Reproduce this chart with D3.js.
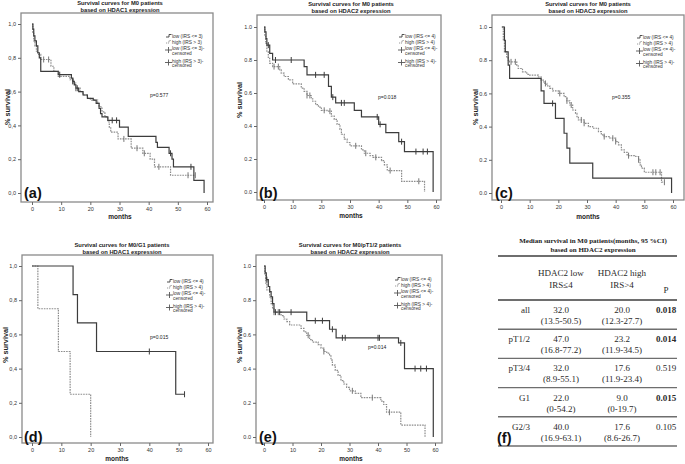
<!DOCTYPE html>
<html><head><meta charset="utf-8">
<script src="https://cdn.jsdelivr.net/npm/d3@7"></script>
<style>body{margin:0;background:#fff}svg{display:block}</style>
</head><body><svg id="c" width="685" height="464"></svg>
<script>
// ---------------- data (Kaplan-Meier steps: [month, survival]) ----------------
const aLow = [[0,1],[0.3,0.97],[0.6,0.93],[1,0.9],[1.5,0.87],[2,0.83],[2.5,0.8],[3,0.72],[9,0.70],[13.5,0.68],[14,0.66],[14.5,0.64],[15,0.62],[16,0.60],[17.5,0.58],[19,0.56],[21,0.55],[22,0.53],[23,0.50],[23.5,0.47],[24,0.45],[26,0.43],[30,0.39],[33,0.335],[42.5,0.30],[43,0.27],[47,0.235],[48,0.20],[48.5,0.155],[55.5,0.075],[59,0]];
const aLowC = [9.5,14,15.5,27.5,29,47.5,54.5];
const aHigh = [[0,1],[0.3,0.95],[0.6,0.9],[1,0.87],[1.5,0.84],[2,0.82],[3,0.79],[6.5,0.75],[7.5,0.72],[9,0.69],[13,0.67],[14,0.65],[15,0.62],[16.5,0.6],[17.5,0.58],[19,0.56],[20,0.55],[22.5,0.53],[23,0.51],[24,0.48],[25,0.45],[26,0.42],[26.5,0.39],[27,0.36],[29.5,0.32],[34,0.265],[38,0.235],[40.5,0.2],[42,0.155],[47.5,0.105],[56,0.105]];
const aHighC = [4,5.7,15,31.5,36,38.5,43.5,53.5,56];

const bLow = [[0,1],[0.3,0.97],[0.7,0.93],[1,0.89],[2,0.84],[3,0.80],[14,0.76],[15,0.71],[22.5,0.64],[23.5,0.575],[25,0.54],[31.5,0.495],[34,0.455],[40,0.41],[42.5,0.36],[47,0.305],[49,0.245],[59,0]];
const bLowC = [1.5,4,9.5,18,21,24,27,28,39.5,40.5,48,53,55.5,57];
const bHigh = [[0,1],[0.3,0.95],[0.6,0.9],[1,0.85],[1.5,0.81],[2,0.78],[3,0.76],[5.5,0.74],[6,0.72],[7,0.70],[8.5,0.68],[10,0.655],[13,0.63],[14,0.61],[15,0.585],[16.5,0.565],[17,0.55],[18,0.53],[19,0.515],[20,0.495],[22,0.49],[23.5,0.46],[24.5,0.44],[25.5,0.41],[26.5,0.38],[27,0.35],[28,0.32],[29,0.30],[30,0.28],[34,0.255],[35,0.235],[37,0.22],[38,0.21],[41,0.19],[42,0.165],[43,0.13],[48,0.065],[56,0]];
const bHighC = [3.5,5,15,16,21,23,32,35.5,39,44,54];

const cLow = [[0.3,1],[1.2,0.92],[1.5,0.85],[2.5,0.77],[3,0.69],[14,0.615],[15,0.54],[19,0.45],[22,0.36],[23,0.27],[24,0.18],[32,0.09],[59.5,0]];
const cLowC = [18];
const cHigh = [[0.3,1],[0.8,0.92],[1.2,0.85],[2,0.82],[2.5,0.8],[3,0.79],[5.5,0.77],[6,0.75],[7.5,0.73],[9,0.715],[10,0.71],[13,0.7],[14,0.68],[15,0.66],[16,0.645],[17,0.63],[18,0.615],[20,0.60],[22,0.58],[23,0.555],[24,0.53],[25,0.50],[26,0.48],[26.5,0.46],[27,0.44],[29,0.42],[30.5,0.40],[32,0.39],[34,0.37],[35,0.35],[36,0.34],[38,0.33],[40,0.31],[41,0.29],[42,0.26],[43,0.245],[44,0.225],[47,0.22],[48,0.20],[48.5,0.17],[49,0.15],[50,0.125],[56,0.065],[57,0.065]];
const cHighC = [3.5,5,15.5,20.5,23,24.5,28,29,36,39,40,44.5,48,53,54,55.5,57];

const dLow = [[0,1],[14,0.833],[15.5,0.667],[22,0.5],[49,0.25],[52,0.25]];
const dLowC = [40,52];
const dHigh = [[0,1],[2,0.75],[9,0.5],[13,0.25],[20,0]];
const dHighC = [];

const eLow = [[0,1],[0.4,0.96],[0.8,0.92],[1.5,0.88],[2,0.85],[2.5,0.82],[3,0.78],[3.5,0.73],[15,0.68],[23,0.63],[25.3,0.58],[47.2,0.55],[49.3,0.40],[59.4,0]];
const eLowC = [1,4,5.5,9.5,18,20.5,24,27.5,28.5,40,40.5,48,53,55,57];
const eHigh = [[0,1],[0.3,0.95],[0.6,0.9],[1,0.86],[2,0.82],[2.5,0.78],[3,0.75],[3.5,0.73],[6,0.71],[7,0.69],[8,0.675],[9,0.655],[13,0.635],[14,0.615],[15,0.595],[16,0.57],[17,0.555],[19,0.54],[20,0.52],[21,0.50],[22,0.49],[23,0.475],[23.5,0.45],[24,0.42],[25,0.39],[26,0.36],[27,0.33],[28,0.31],[29,0.29],[30,0.27],[32,0.255],[34,0.23],[41,0.21],[42,0.19],[43,0.145],[48,0.07],[56.5,0]];
const eHighC = [3.5,5,15.5,21,31,38,44];

const xTicks = [0,10,20,30,40,50,60];
const yTicks = [0,0.2,0.4,0.6,0.8,1.0];

// table
const tableRows = ['all','pT1/2','pT3/4','G1','G2/3'];
const lowMedian = ['32.0','47.0','32.0','22.0','40.0'];
const lowCI = ['(13.5-50.5)','(16.8-77.2)','(8.9-55.1)','(0-54.2)','(16.9-63.1)'];
const highMedian = ['20.0','23.2','17.6','9.0','17.6'];
const highCI = ['(12.3-27.7)','(11.9-34.5)','(11.9-23.4)','(0-19.7)','(8.6-26.7)'];
const pValues = ['0.018','0.014','0.519','0.015','0.105'];
const pSignificant = [true,true,false,true,false];

// ---------------- panels ----------------
const panels = [
 {tag:'(a)', low:aLow, high:aHigh, lowC:aLowC, highC:aHighC, cut:3, comma:true,
  title:['Survival curves for M0 patients','based on HDAC1 expression'], p:'p=0.577',
  L:{box:[21,13,213,202], xr:[32,207], yr:[193,24], title:[120,5], leg:[166,36], p:[150,97], tag:[24,198], ylab:[7,107], xlab:[120,219]}},
 {tag:'(b)', low:bLow, high:bHigh, lowC:bLowC, highC:bHighC, cut:4, comma:false,
  title:['Survival curves for M0 patients','based on HDAC2 expression'], p:'p=0.018',
  L:{box:[257,15,441,200], xr:[264,436], yr:[192,27], title:[351,6], leg:[399,36], p:[378,99], tag:[259,198], ylab:[239,100], xlab:[351,218]}},
 {tag:'(c)', low:cLow, high:cHigh, lowC:cLowC, highC:cHighC, cut:4, comma:false,
  title:['Survival curves for M0 patients','based on HDAC3 expression'], p:'p=0.355',
  L:{box:[492,15,684,200], xr:[501,673], yr:[193,27], title:[588,6], leg:[637,37], p:[612,99], tag:[495,198], ylab:[475,107], xlab:[588,219]}},
 {tag:'(d)', low:dLow, high:dHigh, lowC:dLowC, highC:dHighC, cut:4, comma:true,
  title:['Survival curves for M0/G1 patients','based on HDAC1 expression'], p:'p=0.015',
  L:{box:[22,255,213,443], xr:[32,208], yr:[437,266], title:[122,247], leg:[167,281], p:[150,339], tag:[24,442], ylab:[5,345], xlab:[117,461]}},
 {tag:'(e)', low:eLow, high:eHigh, lowC:eLowC, highC:eHighC, cut:4, comma:false,
  title:['Survival curves for M0/pT1/2 patients','based on HDAC2 expression'], p:'p=0.014',
  L:{box:[256,255,442,443], xr:[264,435], yr:[437,266], title:[350,247], leg:[395,279], p:[368,349], tag:[259,442], ylab:[239,345], xlab:[351,461]}}
];

const svg = d3.select('#c');
svg.append('rect').attr('width',685).attr('height',464).attr('fill','#fff');
const SANS = 'Liberation Sans, Arial, sans-serif';
const SERIF = 'Liberation Serif, Times New Roman, serif';
const LOWCOL = '#3c3c3c', HIGHCOL = '#8c8c8c', FRAME = '#8a8a8a';

function survAt(steps, t){ let s = steps[0][1]; for(const d of steps){ if(d[0] <= t) s = d[1]; } return s; }

panels.forEach(P => {
  const L = P.L;
  const g = svg.append('g');
  const x = d3.scaleLinear().domain([0,60]).range(L.xr);
  const y = d3.scaleLinear().domain([0,1]).range(L.yr);
  const fmt = v => { const s = d3.format('.1f')(v); return P.comma ? s.replace('.',',') : s; };
  // frame
  g.append('rect').attr('x',L.box[0]).attr('y',L.box[1]).attr('width',L.box[2]-L.box[0]).attr('height',L.box[3]-L.box[1])
    .attr('fill','none').attr('stroke',FRAME).attr('stroke-width',1.3);
  // axes
  const ya = g.append('g').attr('transform',`translate(${L.box[0]},0)`)
    .call(d3.axisLeft(y).tickValues(yTicks).tickFormat(fmt).tickSize(3).tickPadding(2));
  const xa = g.append('g').attr('transform',`translate(0,${L.box[3]})`)
    .call(d3.axisBottom(x).tickValues(xTicks).tickFormat(d3.format('d')).tickSize(3).tickPadding(2));
  [ya,xa].forEach(a=>{ a.select('.domain').remove(); a.selectAll('line').attr('stroke','#666');
    a.selectAll('text').attr('font-family',SANS).attr('font-size',5.5).attr('fill','#333'); });
  // title
  P.title.forEach((t,i)=> g.append('text').attr('x',L.title[0]).attr('y',L.title[1]+i*7)
    .attr('text-anchor','middle').attr('font-family',SANS).attr('font-weight','bold').attr('font-size',5.8).attr('fill','#222').text(t));
  // axis labels
  g.append('text').attr('transform',`translate(${L.ylab[0]},${L.ylab[1]}) rotate(-90)`).attr('dy','0.35em')
    .attr('text-anchor','middle').attr('font-family',SANS).attr('font-weight','bold').attr('font-size',7.3).attr('fill','#222').text('% survival');
  g.append('text').attr('x',L.xlab[0]).attr('y',L.xlab[1]).attr('text-anchor','middle')
    .attr('font-family',SANS).attr('font-weight','bold').attr('font-size',6.5).attr('fill','#222').text('months');
  // curves
  const line = d3.line().x(d=>x(d[0])).y(d=>y(d[1])).curve(d3.curveStepAfter);
  g.append('path').attr('d',line(P.high)).attr('fill','none').attr('stroke',HIGHCOL).attr('stroke-width',1.2).attr('stroke-dasharray','1.6,1');
  g.append('path').attr('d',line(P.low)).attr('fill','none').attr('stroke',LOWCOL).attr('stroke-width',1.2);
  // censor marks
  const cens = (arr, steps, col) => g.selectAll(null).data(arr).enter().append('line')
    .attr('x1',d=>x(d)).attr('x2',d=>x(d)).attr('y1',d=>y(survAt(steps,d))-3).attr('y2',d=>y(survAt(steps,d))+3)
    .attr('stroke',col).attr('stroke-width',1);
  cens(P.highC, P.high, '#777');
  cens(P.lowC, P.low, LOWCOL);
  // p value
  g.append('text').attr('x',L.p[0]).attr('y',L.p[1]).attr('font-family',SANS).attr('font-size',5).attr('fill','#222').text(P.p);
  // panel tag
  g.append('text').attr('x',L.tag[0]).attr('y',L.tag[1]).attr('font-family',SANS).attr('font-weight','bold').attr('font-size',14.5).attr('fill','#111').text(P.tag);
  // legend
  const lx = L.leg[0], ly = L.leg[1];
  const items = [
    {kind:'low', lines:[`low (IRS <= ${P.cut})`], dy:0},
    {kind:'high', lines:[`high (IRS > ${P.cut})`], dy:6},
    {kind:'cl', lines:[`low (IRS <= ${P.cut})-`,'censored'], dy:12.5},
    {kind:'ch', lines:[`high (IRS > ${P.cut})-`,'censored'], dy:25}
  ];
  items.forEach(it=>{
    const yy = ly + it.dy;
    if(it.kind==='low' || it.kind==='high'){
      g.append('path').attr('d',`M${lx},${yy+1}H${lx+3}V${yy-1.5}H${lx+5.5}`).attr('fill','none')
        .attr('stroke', it.kind==='low'?LOWCOL:HIGHCOL).attr('stroke-width',0.9).attr('stroke-dasharray', it.kind==='low'?null:'1.2,0.8');
    } else {
      const my = yy + 1.5;
      g.append('line').attr('x1',lx-1).attr('x2',lx+6).attr('y1',my).attr('y2',my).attr('stroke','#555').attr('stroke-width',0.9);
      g.append('line').attr('x1',lx+2.5).attr('x2',lx+2.5).attr('y1',my-3).attr('y2',my+3).attr('stroke','#555').attr('stroke-width',0.9);
    }
    it.lines.forEach((t,i)=> g.append('text').attr('x',lx+6).attr('y',yy+1.8+i*4.3)
      .attr('font-family',SANS).attr('font-size',4.8).attr('fill','#333').text(t));
  });
});

// ---------------- table (f) ----------------
const T = svg.append('g');
const tx0 = 498, tx1 = 677;
const colLow = 561, colHigh = 622, colP = 666, labelRight = 530;
['Median survival in M0 patients(months, 95 %CI)','based on HDAC2 expression'].forEach((t,i)=>
  T.append('text').attr('x',593).attr('y',242.5+i*9).attr('text-anchor','middle').attr('font-family',SERIF)
   .attr('font-weight','bold').attr('font-size',7).attr('fill','#222').text(t));
const rowY = d3.scaleLinear().domain([0,tableRows.length]).range([300,446]);
const rules = [256].concat(d3.range(tableRows.length+1).map(i=>rowY(i)));
T.selectAll(null).data(rules).enter().append('line').attr('x1',tx0).attr('x2',tx1).attr('y1',d=>d).attr('y2',d=>d)
  .attr('stroke','#6e6e6e').attr('stroke-width',(d,i)=> i<2?1.8:1.4);
const txt = (x,y,s,anchor,bold)=> T.append('text').attr('x',x).attr('y',y).attr('text-anchor',anchor||'middle')
  .attr('font-family',SERIF).attr('font-size',9).attr('font-weight',bold?'bold':'normal').attr('fill','#2a2a2a').text(s);
txt(colLow,276,'HDAC2 low'); txt(colLow,288,'IRS\u22644');
txt(colHigh,276,'HDAC2 high'); txt(colHigh,288,'IRS>4');
txt(colP,293,'P');
tableRows.forEach((r,i)=>{
  const top = rowY(i);
  txt(labelRight, top+13, r, 'end');
  txt(colLow, top+13, lowMedian[i]); txt(colLow, top+24, lowCI[i]);
  txt(colHigh, top+13, highMedian[i]); txt(colHigh, top+24, highCI[i]);
  txt(colP, top+13, pValues[i], 'middle', pSignificant[i]);
});
T.append('text').attr('x',497).attr('y',443).attr('font-family',SANS).attr('font-weight','bold').attr('font-size',14.5).attr('fill','#111').text('(f)');
</script></body></html>
